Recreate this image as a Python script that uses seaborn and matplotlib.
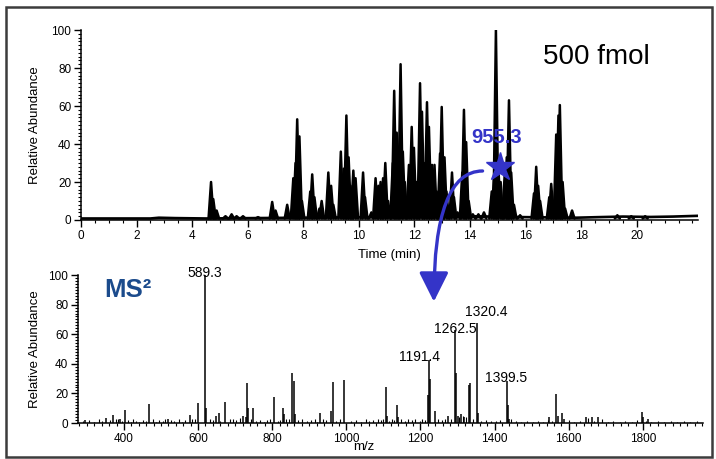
import numpy as np
import pandas as pd
import matplotlib
matplotlib.use("Agg")
import matplotlib.pyplot as plt
import seaborn as sns
from matplotlib.patches import ConnectionPatch, Rectangle

# --- chromatogram (top): peak apex time (min) and relative abundance ---
peak_time = [4.68, 4.76, 4.88, 5.20, 5.42, 5.60, 5.83, 6.37, 6.88, 7.00, 7.42,
             7.64, 7.72, 7.78, 7.86, 7.95, 8.25, 8.32, 8.40, 8.58, 8.66, 8.90,
             9.00, 9.08, 9.35, 9.45, 9.55, 9.63, 9.70, 9.80, 9.88, 10.15, 10.22,
             10.45, 10.60, 10.70, 10.78, 10.87, 10.95, 11.05, 11.22, 11.27, 11.36,
             11.50, 11.58, 11.65, 11.80, 11.90, 11.98, 12.08, 12.20, 12.27, 12.38,
             12.45, 12.52, 12.63, 12.72, 12.80, 12.92, 12.98, 13.08, 13.15, 13.35,
             13.42, 13.55, 13.72, 13.78, 13.86, 13.95, 14.10, 14.30, 14.50, 14.78,
             14.86, 14.93, 15.02, 15.10, 15.25, 15.32, 15.40, 15.48, 15.58, 15.80,
             16.30, 16.38, 16.45, 16.52, 16.85, 16.92, 17.00, 17.10, 17.18, 17.23,
             17.33, 17.42, 17.67, 19.30, 19.80, 20.30]
peak_height = [20, 11, 5, 2, 3, 2, 2, 1.5, 9.5, 5, 8,
               22, 30, 53, 44, 10, 15, 24, 12, 6, 10, 25,
               18, 8, 36, 27, 55, 33, 18, 26, 22, 25, 12,
               4, 22, 18, 20, 22, 30, 10, 30, 68, 46,
               82, 36, 20, 29, 49, 38, 20, 72, 57, 30,
               62, 49, 29, 29, 15, 35, 59.5, 33, 15, 25,
               12, 4, 25, 58, 41, 10, 3, 3, 4, 15,
               22, 100, 27, 20, 25, 33, 63, 25, 8, 2.5,
               14, 28, 18, 10, 12, 19, 8, 45, 55, 60.5,
               20, 6, 5, 2.5, 2, 2]
base_time = [0, 2.5, 2.8, 3.4, 4.5, 10.4, 14.0, 16.0, 17.8, 18.6, 19.5, 20.5, 21.3, 22.2]
base_level = [0.8, 0.8, 1.2, 1.0, 0.8, 1.5, 2.0, 1.5, 1.2, 1.5, 1.8, 1.6, 1.8, 2.2]

precursor_time, precursor_abund = 15.07, 27.9

# --- MS2 spectrum (bottom): m/z and relative abundance ---
ion_mz = [295, 351, 370, 389, 403, 467, 519, 578, 600, 618.5, 621, 648, 656, 672,
          721, 728, 732, 735, 748, 805, 829, 832, 853, 858, 862, 929, 958, 964, 993,
          1107, 1110, 1136, 1140, 1220, 1223, 1226, 1239, 1274, 1293, 1296, 1300,
          1310, 1318, 1330, 1333, 1352, 1355, 1433, 1436, 1440, 1548, 1565, 1570,
          1581, 1587, 1646, 1662, 1678, 1797, 1800, 1813]
ion_abund = [2, 3.5, 5.5, 3, 8.5, 13, 3, 5.5, 13.5, 100, 10, 5, 7, 14,
             5, 4, 27, 10, 10, 17.5, 10, 6, 34, 28.5, 6, 7, 8, 28, 29,
             24, 5, 12, 4, 19, 42.5, 30, 8, 5, 63, 34, 5,
             6, 4, 25.5, 27, 67.5, 7, 28.5, 12, 3, 4, 19.5, 5,
             7, 3, 4, 4, 4, 7.5, 4, 3]
noise_mz = [290, 305, 318, 333, 340, 362, 378, 385, 396, 410, 418, 425, 433, 441,
            452, 459, 478, 487, 495, 506, 512, 527, 534, 548, 556, 565, 583, 592,
            631, 640, 660, 686, 693, 702, 713, 742, 757, 768, 778, 787, 795, 815,
            822, 838, 845, 870, 880, 893, 905, 916, 922, 938, 946, 972, 983, 1012,
            1026, 1040, 1052, 1061, 1073, 1085, 1094, 1100, 1116, 1122, 1128, 1147,
            1158, 1166, 1176, 1186, 1198, 1205, 1213, 1248, 1258, 1266, 1283, 1305,
            1314, 1322, 1342, 1362, 1376, 1391, 1405, 1414, 1445, 1458, 1472, 1488,
            1503, 1517, 1530, 1543, 1556, 1600, 1615, 1630, 1652, 1668, 1690, 1705,
            1720, 1737, 1752, 1770, 1785, 1808, 1823, 1840, 1858, 1875, 1893, 1910,
            1928, 1945]
noise_abund = [1.5, 2, 1, 2.5, 1.5, 2, 3, 2.5, 1.5, 2, 1, 2.5, 1.5, 1,
               2, 1.5, 2.5, 1, 2, 1.5, 3, 2, 1.5, 2.5, 1, 2, 3, 2.5,
               3, 2, 1.5, 2.5, 3, 2, 3.5, 2.5, 1.5, 2, 1, 2, 2.5, 1.5,
               2, 3, 2.5, 2, 3, 1.5, 2, 2.5, 1, 3, 2, 1.5, 2.5, 1.5,
               2, 1, 2.5, 1.5, 2, 3, 2, 2.5, 1.5, 3, 2, 2.5,
               1.5, 3, 2, 2.5, 1.5, 3, 2, 2.5, 2, 3, 2.5, 4,
               5, 4, 3, 1.5, 2, 1.5, 1.5, 2, 3, 1.5, 1, 1.5,
               1, 1.5, 1, 2, 1.5, 2, 1, 1.5, 3.5, 1.5, 2.5, 1,
               1.5, 1, 1.5, 1, 2, 1.5, 1, 1.5, 1, 1.5, 1, 1.5,
               1, 1.5]

label_text = ["589.3", "1191.4", "1262.5", "1320.4", "1399.5"]
label_mz = [618.5, 1223, 1293, 1352, 1433]
label_abund = [100, 42.5, 63, 67.5, 28.5]
label_offset = [(0, -1.5), (-6.5, -0.7), (0, -2), (6.5, 5), (-0.7, -0.7)]

# --- styling ---
sns.set_theme(style="ticks")
plt.rcParams["font.family"] = ["Liberation Sans", "DejaVu Sans"]
plt.rcParams.update({"axes.linewidth": 1.1, "text.color": "black",
                     "axes.labelcolor": "black", "xtick.color": "black",
                     "ytick.color": "black", "axes.edgecolor": "black"})
blue = "#3434c8"

fig = plt.figure(figsize=(7.16, 4.59), dpi=100)
ax1 = fig.add_axes([0.1131, 0.5207, 0.8617, 0.4139])
ax2 = fig.add_axes([0.1089, 0.0784, 0.8729, 0.3224])

# chromatogram: each peak as a narrow spike, filled black
rows = []
for i, (t, h) in enumerate(zip(peak_time, peak_height)):
    rows += [(i, t - 0.09, 0.8), (i, t, h), (i, t + 0.09, 0.8)]
trace = pd.DataFrame(rows, columns=["peak", "time", "abundance"])
for _, g in trace.groupby("peak"):
    ax1.fill(g["time"], g["abundance"], color="black", lw=0)
sns.lineplot(data=trace, x="time", y="abundance", units="peak", estimator=None,
             color="black", lw=1.8, ax=ax1)
sns.lineplot(x=base_time, y=base_level, color="black", lw=1.9, ax=ax1)

ax1.set_xlim(0, 22.2)
ax1.set_ylim(0, 100)
ax1.set_xticks(np.arange(0, 21, 2))
ax1.set_xticks(np.arange(0, 22.3, 0.5), minor=True)
ax1.set_yticks(np.arange(0, 101, 20))
ax1.set_yticks(np.arange(0, 101, 2), minor=True)
ax1.set_xlabel("Time (min)", fontsize=9.5, labelpad=5)
ax1.set_ylabel("Relative Abundance", fontsize=9.5)

# precursor star and label
ax1.plot(precursor_time, precursor_abund, marker="*", ms=21, color=blue,
         mec=blue, zorder=5, clip_on=False)
ax1.annotate("955.3", xy=(precursor_time, precursor_abund), xytext=(-2, 21),
             textcoords="offset points", ha="center", va="center",
             fontsize=14.5, fontweight="bold", color=blue)
ax1.text(0.836, 0.858, "500 fmol", transform=ax1.transAxes, ha="center",
         va="center", fontsize=20)

# MS2 spectrum sticks
ax2.vlines(noise_mz, 0, noise_abund, color="black", lw=0.8)
ax2.vlines(ion_mz, 0, ion_abund, color="black", lw=1.1)
for txt, mz, ab, off in zip(label_text, label_mz, label_abund, label_offset):
    ax2.annotate(txt, xy=(mz, ab), xytext=off, textcoords="offset points",
                 ha="center", va="baseline", fontsize=10)
ax2.text(0.08, 0.9, "MS\u00b2", transform=ax2.transAxes, ha="center", va="center",
         fontsize=18.5, fontweight="bold", color="#1b4b8c")

ax2.set_xlim(276, 1962)
ax2.set_ylim(0, 100)
ax2.set_xticks(np.arange(400, 1801, 200))
ax2.set_xticks(np.arange(280, 1961, 20), minor=True)
ax2.set_yticks(np.arange(0, 101, 20))
ax2.set_yticks(np.arange(0, 101, 2), minor=True)
ax2.set_xlabel("m/z", fontsize=9.5, labelpad=0)
ax2.set_ylabel("Relative Abundance", fontsize=9.5)

for ax in (ax1, ax2):
    sns.despine(ax=ax)
    ax.tick_params(which="major", length=5, width=1, labelsize=8.5, pad=2, color="black")
    ax.tick_params(which="minor", length=2.5, width=0.8, color="black")
ax1.yaxis.set_label_coords(-0.065, 0.5)
ax2.yaxis.set_label_coords(-0.059, 0.5)
ax2.xaxis.set_label_coords(0.458, -0.12)

# curved arrow from the precursor down to the MS2 panel
arrow = ConnectionPatch(xyA=(14.45, 25.8), coordsA=ax1.transData,
                        xyB=(1236, 82), coordsB=ax2.transData,
                        arrowstyle="-|>", connectionstyle="angle3,angleA=180,angleB=90",
                        color=blue, lw=2.4, mutation_scale=45, zorder=6)
fig.add_artist(arrow)

# outer frame
fig.add_artist(Rectangle((0.009, 0.005), 0.985, 0.979, transform=fig.transFigure,
                         fill=False, ec="#3c3c3c", lw=1.8))

fig.savefig("out.png", dpi=100)
